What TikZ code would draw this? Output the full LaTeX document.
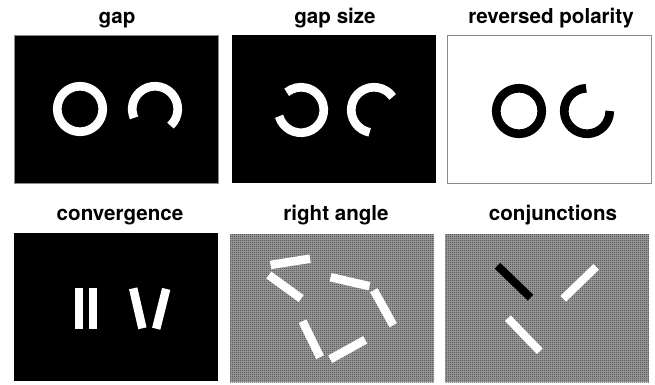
\documentclass[tikz,border=0pt]{standalone}
\usepackage{fontspec}
\setmainfont{TeX Gyre Heros}
\usepackage{tikz}
\usetikzlibrary{patterns}
\definecolor{fondo}{gray}{0.64}
\definecolor{trama}{gray}{0.20}
\definecolor{borde}{gray}{0.55}
\pgfdeclarepatternformonly{damero}{\pgfpointorigin}{\pgfpoint{2pt}{2pt}}{\pgfpoint{2pt}{2pt}}{%
  \pgfpathrectangle{\pgfpointorigin}{\pgfpoint{1pt}{1pt}}%
  \pgfpathrectangle{\pgfpoint{1pt}{1pt}}{\pgfpoint{1pt}{1pt}}%
  \pgfusepath{fill}}

\begin{document}
\begin{tikzpicture}[x=1pt, y=1pt,
    font=\bfseries\fontsize{20.6}{24}\selectfont,
    panel/.style={minimum width=204pt, minimum height=148pt, inner sep=0pt, outer sep=0pt},
    textura/.style={panel, fill=fondo, postaction={pattern=damero, pattern color=trama}},
    ring/.style={line width=8.7pt},
    bar/.style={fill=white, minimum width=40pt, minimum height=8.5pt, inner sep=0pt},
    longbar/.style={bar, minimum width=46pt, minimum height=8pt},
    title/.style={anchor=base}]
  \useasboundingbox (0,0) rectangle (655,384);
  % paneles
  \node[panel, fill=black, draw=borde, line width=0.4pt] (gap) at (116,275) {};
  \node[panel, fill=black] (gapsize) at (334,275) {};
  \node[panel, fill=white, draw=borde, line width=0.8pt] (polarity) at (549,275) {};
  \node[panel, fill=black] (convergence) at (116,77) {};
  \node[textura] (rightangle) at (332,76) {};
  \node[textura] (conjunctions) at (547,76) {};
  % titulos
  \node[title] (t1) at (117,360) {gap};
  \node[title] (t2) at (335,360) {gap size};
  \node[title] (t3) at (551,360) {reversed polarity};
  \node[title] (t4) at (120,164) {convergence};
  \node[title] (t5) at (336,164) {right angle};
  \node[title] (t6) at (553,164) {conjunctions};
  % anillos
  \draw[ring, white] (80,275) circle (22.75);
  \draw[ring, white] (155,275) ++(-47:22.75) arc[start angle=-47, end angle=203, radius=22.75];
  \draw[ring, white] (301,274) ++(-164:22.75) arc[start angle=-164, end angle=129, radius=22.75];
  \draw[ring, white] (374,274) ++(35:22.75) arc[start angle=35, end angle=259, radius=22.75];
  \draw[ring, black] (519,273) circle (22.75);
  \draw[ring, black] (587,273) ++(92:22.75) arc[start angle=92, end angle=360, radius=22.75];
  % barras
  \node[bar, rotate=90, minimum width=41pt] (c1) at (79.2,76) {};
  \node[bar, rotate=90, minimum width=41pt] (c2) at (92.8,76) {};
  \node[bar, rotate=90+13, minimum width=41pt] (c3) at (137.8,75.7) {};
  \node[bar, rotate=90-14, minimum width=41pt] (c4) at (161.2,75.2) {};
  \node[bar, rotate=9] (r1) at (290.3,122.2) {};
  \node[bar, rotate=-36] (r2) at (285,97.2) {};
  \node[bar, rotate=-13] (r3) at (350,102.3) {};
  \node[bar, rotate=-61] (r4) at (383.5,76.3) {};
  \node[bar, rotate=-64] (r5) at (311.3,44.8) {};
  \node[bar, rotate=29] (r6) at (347.7,34.5) {};
  \node[longbar, fill=black, rotate=-44] (j1) at (514,102.3) {};
  \node[longbar, rotate=44] (j2) at (579.7,101.2) {};
  \node[longbar, rotate=-46] (j3) at (523.8,49.3) {};
\end{tikzpicture}
\end{document}
